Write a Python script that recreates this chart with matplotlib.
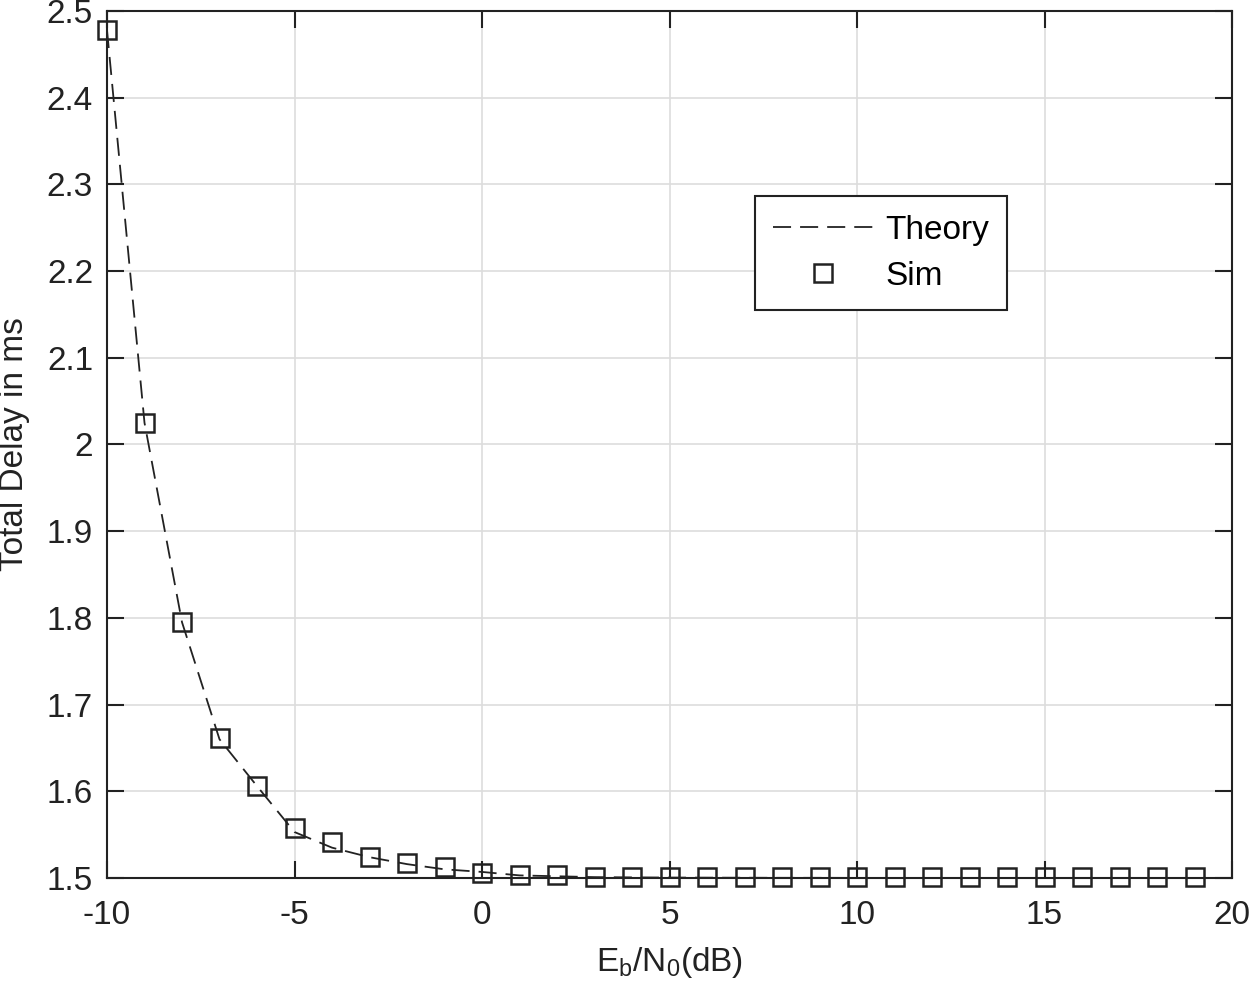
import matplotlib
matplotlib.use("Agg")
import matplotlib.pyplot as plt
import numpy as np

plt.rcParams["font.family"] = ["Liberation Sans", "DejaVu Sans"]
plt.rcParams["mathtext.fontset"] = "custom"
plt.rcParams["mathtext.rm"] = "Liberation Sans"
plt.rcParams["mathtext.it"] = "Liberation Sans"
plt.rcParams["axes.unicode_minus"] = False

ebn0 = np.arange(-10, 20)
theory = [2.478, 2.025, 1.795, 1.660, 1.606, 1.553, 1.535, 1.524, 1.516, 1.510,
          1.507, 1.503, 1.502, 1.501, 1.5007, 1.5005, 1.5004, 1.5003, 1.5002, 1.5002,
          1.5001, 1.5001, 1.5001, 1.5001, 1.5001, 1.5001, 1.5001, 1.5001, 1.5001, 1.5001]
sim = [2.478, 2.025, 1.795, 1.661, 1.606, 1.558, 1.5415, 1.524, 1.517, 1.513,
       1.506, 1.504, 1.503, 1.501, 1.501, 1.501, 1.501, 1.501, 1.501, 1.501,
       1.501, 1.501, 1.501, 1.501, 1.501, 1.501, 1.501, 1.501, 1.501, 1.501]

fig = plt.figure(figsize=(12.5, 9.94), dpi=100)
ax = fig.add_axes([0.0856, 0.1167, 0.9, 0.8723])

ax.plot(ebn0, theory, color="#222222", lw=1.3, dashes=(10, 5), label="Theory")
ax.plot(ebn0, sim, ls="none", marker="s", markersize=13, markerfacecolor="none",
        markeredgecolor="#222222", markeredgewidth=1.8, label="Sim", clip_on=False)

ax.set_xlim(-10, 20)
ax.set_ylim(1.5, 2.5)
ax.set_xticks(np.arange(-10, 21, 5))
ax.set_yticks(np.arange(1.5, 2.51, 0.1))
ax.set_yticklabels(["1.5", "1.6", "1.7", "1.8", "1.9", "2", "2.1", "2.2", "2.3", "2.4", "2.5"])
ax.grid(True, color="#dddddd", lw=1.2)
ax.set_axisbelow(True)
ax.tick_params(direction="in", length=12, width=1.5, top=True, right=True,
               labelsize=24, colors="#222222")
ax.tick_params(axis="x", pad=16)
ax.tick_params(axis="y", pad=10)
for s in ax.spines.values():
    s.set_linewidth(1.5)
    s.set_color("#222222")

ax.set_xlabel(r"E$_\mathrm{b}$/N$_0$(dB)", fontsize=24, color="#222222", labelpad=10)
ax.set_ylabel("Total Delay in ms", fontsize=24, color="#222222", labelpad=12)

leg = ax.legend(loc="upper left", bbox_to_anchor=(0.576, 0.786), fontsize=24,
                fancybox=False, framealpha=1, edgecolor="#222222",
                handlelength=3.0, handletextpad=0.35, borderpad=0.55, labelspacing=0.45,
                borderaxespad=0)
leg.get_frame().set_linewidth(1.5)

fig.savefig("out.png", dpi=100)
